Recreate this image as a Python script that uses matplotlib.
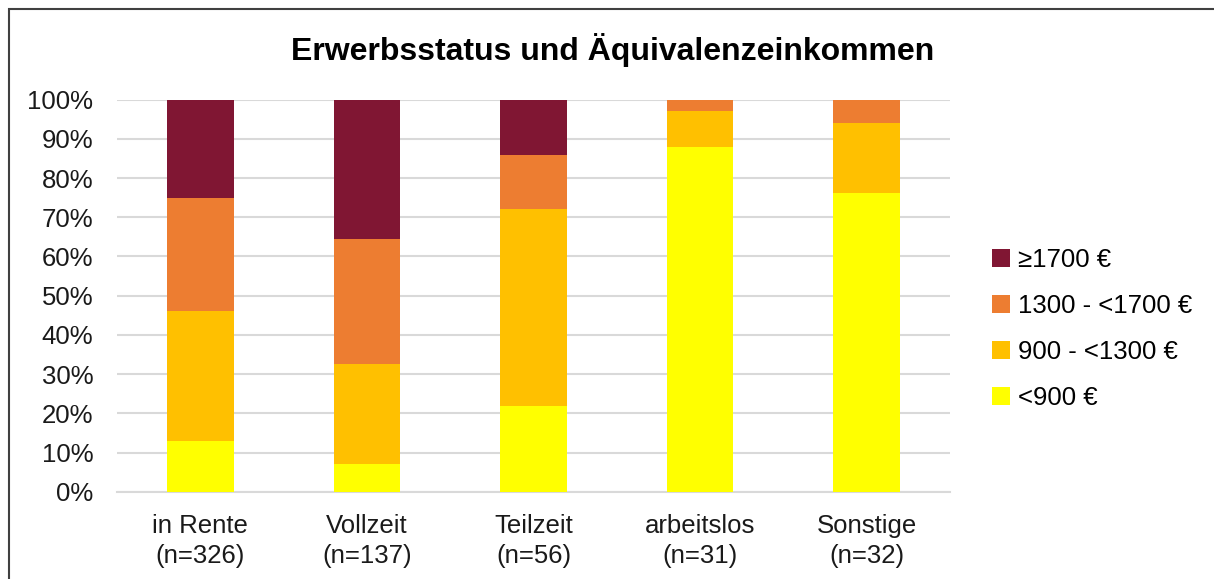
import matplotlib
matplotlib.use("Agg")
import matplotlib.pyplot as plt
from matplotlib.patches import Rectangle
import numpy as np

plt.rcParams['font.family'] = ['Liberation Sans', 'DejaVu Sans']

categories = ["in Rente\n(n=326)", "Vollzeit\n(n=137)", "Teilzeit\n(n=56)",
              "arbeitslos\n(n=31)", "Sonstige\n(n=32)"]
series_names = ["<900 €", "900 - <1300 €", "1300 - <1700 €", "≥1700 €"]
below_900 = [13.0, 7.0, 21.9, 87.9, 76.3]
from_900_to_1300 = [33.1, 25.7, 50.2, 9.2, 17.7]
from_1300_to_1700 = [28.9, 31.7, 13.9, 2.9, 6.0]
above_1700 = [25.0, 35.6, 14.0, 0.0, 0.0]
colors = ["#FFFF00", "#FFC000", "#ED7D31", "#801633"]

W, H = 1214, 579
fig = plt.figure(figsize=(W / 100, H / 100), dpi=100)
ax = fig.add_axes([117 / W, 1 - 491.7 / H, (950 - 117) / W, (491.7 - 99.7) / H])

x = np.arange(len(categories))
bottom = np.zeros(len(categories))
handles = []
for vals, name, col in zip([below_900, from_900_to_1300, from_1300_to_1700, above_1700],
                           series_names, colors):
    v = np.array(vals) / 100.0
    b = ax.bar(x, v, 0.4, bottom=bottom, color=col, label=name, zorder=3)
    handles.append(b)
    bottom += v

ax.set_xlim(-0.5, len(categories) - 0.5)
ax.set_ylim(0, 1.0)
ax.set_yticks(np.arange(0, 1.01, 0.1))
ax.set_yticklabels([f"{int(round(t * 100))}%" for t in np.arange(0, 1.01, 0.1)])
ax.set_xticks(x)
ax.set_xticklabels(categories, linespacing=1.3)
ax.tick_params(axis='both', length=0, labelsize=18.5, colors="#1a1a1a")
ax.tick_params(axis='y', pad=17)
ax.tick_params(axis='x', pad=16)
ax.yaxis.grid(True, color="#D9D9D9", linewidth=1.5, zorder=0)
ax.set_axisbelow(True)
for s in ["top", "right", "left"]:
    ax.spines[s].set_visible(False)
ax.spines["bottom"].set_color("#D9D9D9")
ax.spines["bottom"].set_linewidth(1.5)

fig.text(613 / W, 1 - 50 / H, "Erwerbsstatus und Äquivalenzeinkommen",
         ha="center", va="center", fontsize=23, fontweight="bold")

leg = fig.legend(handles[::-1], series_names[::-1], loc="center left",
                 bbox_to_anchor=(969 / W, 1 - 329 / H), frameon=False,
                 fontsize=18.5, handlelength=0.7, handleheight=0.7,
                 handletextpad=0.3, labelspacing=0.85)

fig.patches.append(Rectangle((9 / W, -0.2), 1.5, 1.2 - 9 / H,
                             transform=fig.transFigure, fill=False,
                             edgecolor="#404040", linewidth=1.5))

fig.savefig("out.png", dpi=100)
